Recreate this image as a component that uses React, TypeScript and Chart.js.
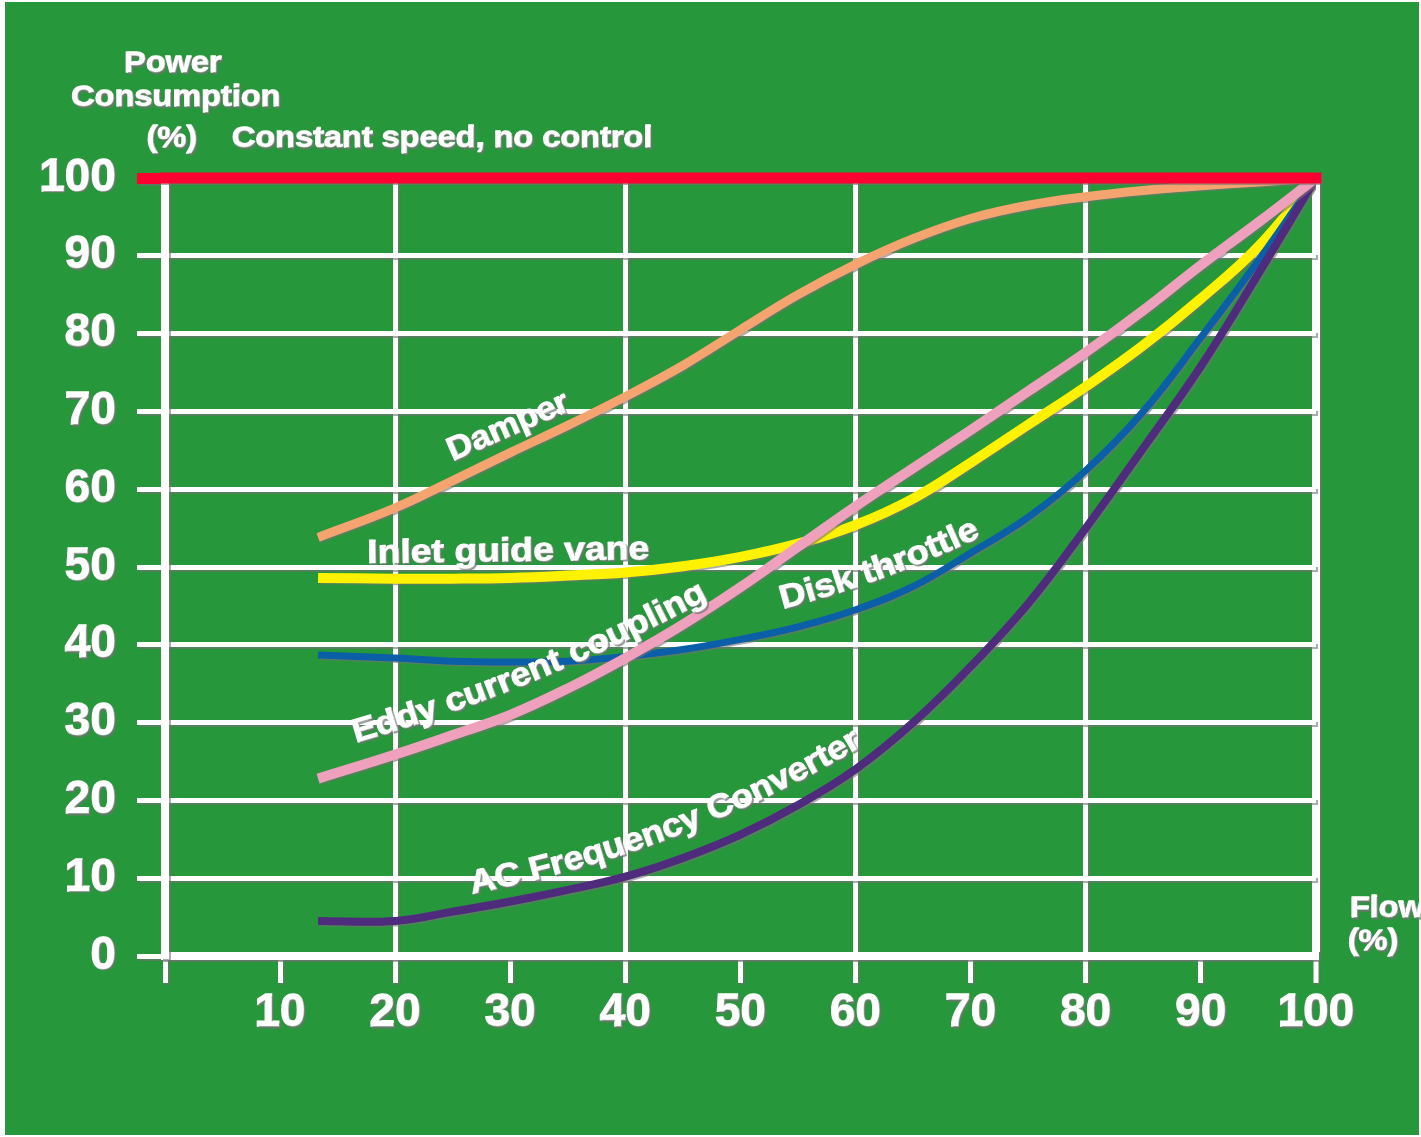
import React, { useEffect, useRef } from 'react';
import { Chart, registerables } from 'chart.js';

Chart.register(...registerables);

// ---------- data ----------
const flow = [13.3, 20, 25, 30, 35, 40, 45, 50, 55, 60, 65, 70, 75, 80, 85, 90, 95, 100];
const damper = [53.8, 57.6, 61.1, 64.7, 68.2, 71.9, 75.9, 80.5, 85.0, 88.9, 92.2, 94.8, 96.5, 97.6, 98.4, 99.0, 99.5, 100];
const inletGuideVane = [48.6, 48.5, 48.5, 48.6, 48.9, 49.3, 50.1, 51.3, 53.0, 55.4, 58.8, 63.4, 68.3, 73.2, 78.5, 84.5, 91.2, 100];
const eddyCurrentCoupling = [22.8, 25.9, 28.4, 31.0, 34.4, 38.3, 42.6, 47.4, 52.6, 57.8, 62.7, 67.6, 72.6, 77.6, 83.0, 88.8, 94.3, 100];
const diskThrottle = [38.7, 38.3, 37.9, 37.8, 37.9, 38.5, 39.4, 40.7, 42.3, 44.5, 47.5, 51.8, 56.4, 62.4, 70.0, 79.5, 89.4, 100];
const acFrequencyConverter = [4.5, 4.5, 5.7, 7.0, 8.5, 10.2, 12.6, 15.6, 19.4, 24.0, 30.0, 37.2, 45.3, 55.0, 65.3, 75.8, 87.7, 100];
const constantFlow = [0, 100];
const constantPower = [100, 100];

const xTickLabels = ['', '10', '20', '30', '40', '50', '60', '70', '80', '90', '100'];
const yTickLabels = ['0', '10', '20', '30', '40', '50', '60', '70', '80', '90', '100'];

const seriesNames = [
  'Constant speed, no control',
  'Eddy current coupling',
  'AC Frequency Converter',
  'Disk throttle',
  'Inlet guide vane',
  'Damper',
];

// ---------- styling ----------
const FONT = '"Liberation Sans", Arial, Helvetica, sans-serif';
const GREEN = '#26973a';
const WHITE = '#ffffff';
const RED = '#fb0030';
const ORANGE = '#f5a470';
const YELLOW = '#fff200';
const PINK = '#efa0bc';
const BLUE = '#0b5ea8';
const PURPLE = '#4e2b7c';

// curve labels: baseline start / end in data units, sag in px
const curveLabels = [
  { text: 'Damper', from: [25.0, 63.6], to: [35.3, 70.2], sag: 0 },
  { text: 'Inlet guide vane', from: [17.6, 50.5], to: [42.1, 51.0], sag: 0 },
  { text: 'Eddy current coupling', from: [16.6, 27.4], to: [47.2, 45.9], sag: 10 },
  { text: 'Disk throttle', from: [53.7, 44.6], to: [70.9, 53.9], sag: 5 },
  { text: 'AC Frequency Converter', from: [26.7, 8.0], to: [60.6, 27.0], sag: 18 },
];

function pts(ys: number[]) {
  return flow.map((x, i) => ({ x, y: ys[i] }));
}

function paintText(ctx: CanvasRenderingContext2D, t: string) {
  ctx.strokeText(t, 0, 0);
  ctx.fillText(t, 0, 0);
}

function drawCurvedText(ctx: CanvasRenderingContext2D, text: string, p0: { x: number; y: number }, p2: { x: number; y: number }, sag: number) {
  const dx = p2.x - p0.x;
  const dy = p2.y - p0.y;
  const len = Math.hypot(dx, dy);
  const nx = -dy / len;
  const ny = dx / len;
  const c = { x: (p0.x + p2.x) / 2 + nx * 2 * sag, y: (p0.y + p2.y) / 2 + ny * 2 * sag };
  const N = 300;
  const path: { x: number; y: number; s: number }[] = [];
  let acc = 0;
  for (let i = 0; i <= N; i++) {
    const t = i / N;
    const x = (1 - t) * (1 - t) * p0.x + 2 * (1 - t) * t * c.x + t * t * p2.x;
    const y = (1 - t) * (1 - t) * p0.y + 2 * (1 - t) * t * c.y + t * t * p2.y;
    if (i > 0) acc += Math.hypot(x - path[i - 1].x, y - path[i - 1].y);
    path.push({ x, y, s: acc });
  }
  const chars = Array.from(text);
  const widths = chars.map((ch) => ctx.measureText(ch).width);
  const W = widths.reduce((a, b) => a + b, 0);
  const k = acc / W;
  let s = 0;
  chars.forEach((ch, i) => {
    const target = (s + widths[i] / 2) * k;
    let j = 1;
    while (j < path.length - 1 && path[j].s < target) j++;
    const a = path[j - 1];
    const b = path[j];
    const f = b.s === a.s ? 0 : (target - a.s) / (b.s - a.s);
    const x = a.x + (b.x - a.x) * f;
    const y = a.y + (b.y - a.y) * f;
    const ang = Math.atan2(b.y - a.y, b.x - a.x);
    ctx.save();
    ctx.translate(x, y);
    ctx.rotate(ang);
    ctx.scale(k, 1);
    ctx.textAlign = 'center';
    paintText(ctx, ch);
    ctx.restore();
    s += widths[i];
  });
}

function drawStretched(ctx: CanvasRenderingContext2D, text: string, x: number, y: number, align: CanvasTextAlign, sx: number) {
  ctx.save();
  ctx.translate(x, y);
  ctx.scale(sx, 1);
  ctx.textAlign = align;
  paintText(ctx, text);
  ctx.restore();
}

function setShadow(ctx: CanvasRenderingContext2D) {
  ctx.shadowColor = 'rgba(115,115,115,0.6)';
  ctx.shadowOffsetX = 1.5;
  ctx.shadowOffsetY = 1.5;
  ctx.shadowBlur = 0.5;
}

const decorPlugin = {
  id: 'decor',
  beforeDraw(chart: any) {
    const ctx: CanvasRenderingContext2D = chart.ctx;
    ctx.save();
    ctx.fillStyle = WHITE;
    ctx.fillRect(0, 0, chart.width, chart.height);
    ctx.fillStyle = GREEN;
    ctx.fillRect(5, 2, chart.width - 7, chart.height - 4);
    ctx.restore();
    setShadow(ctx);
  },
  afterDatasetsDraw(chart: any) {
    const ctx: CanvasRenderingContext2D = chart.ctx;
    const xs = chart.scales.x;
    const ys = chart.scales.y;
    ctx.save();
    setShadow(ctx);
    ctx.fillStyle = WHITE;
    ctx.strokeStyle = WHITE;
    ctx.lineWidth = 1.3;
    ctx.lineJoin = 'round';
    ctx.textBaseline = 'alphabetic';
    ctx.font = `bold 33px ${FONT}`;
    curveLabels.forEach((l) => {
      const p0 = { x: xs.getPixelForValue(l.from[0]), y: ys.getPixelForValue(l.from[1]) };
      const p2 = { x: xs.getPixelForValue(l.to[0]), y: ys.getPixelForValue(l.to[1]) };
      drawCurvedText(ctx, l.text, p0, p2, l.sag);
    });
    ctx.font = `bold 29px ${FONT}`;
    const sx = 1.12;
    drawStretched(ctx, 'Power', 173, 72, 'center', sx);
    drawStretched(ctx, 'Consumption', 176, 106, 'center', sx);
    drawStretched(ctx, '(%)', 172, 147, 'center', sx);
    drawStretched(ctx, seriesNames[0], 232, 147, 'left', sx);
    drawStretched(ctx, 'Flow', 1350, 917, 'left', sx);
    drawStretched(ctx, '(%)', 1348, 950, 'left', sx);
    ctx.restore();
  },
};

export default function App() {
  const ref = useRef<HTMLCanvasElement | null>(null);
  useEffect(() => {
    if (!ref.current) return;
    const lineCommon = {
      pointRadius: 0,
      pointHoverRadius: 0,
      fill: false,
      tension: 0.4,
      borderCapStyle: 'butt' as const,
      borderJoinStyle: 'round' as const,
    };
    const chart = new Chart(ref.current, {
      type: 'line',
      data: {
        datasets: [
          {
            label: seriesNames[0],
            data: constantFlow.map((x, i) => ({ x, y: constantPower[i] })),
            borderColor: RED,
            borderWidth: 11,
            pointRadius: 0,
            borderCapStyle: 'square',
            clip: false,
          },
          { label: seriesNames[1], data: pts(eddyCurrentCoupling), borderColor: PINK, borderWidth: 10, ...lineCommon },
          { label: seriesNames[2], data: pts(acFrequencyConverter), borderColor: PURPLE, borderWidth: 8, ...lineCommon },
          { label: seriesNames[3], data: pts(diskThrottle), borderColor: BLUE, borderWidth: 7, ...lineCommon },
          { label: seriesNames[4], data: pts(inletGuideVane), borderColor: YELLOW, borderWidth: 10, ...lineCommon },
          { label: seriesNames[5], data: pts(damper), borderColor: ORANGE, borderWidth: 9, ...lineCommon },
        ] as any,
      },
      options: {
        responsive: false,
        animation: false,
        devicePixelRatio: 1,
        layout: { padding: { top: 178, right: 105, bottom: 81, left: 0 } },
        plugins: { legend: { display: false }, tooltip: { enabled: false } },
        events: [],
        scales: {
          x: {
            type: 'linear',
            min: 0,
            max: 100,
            afterFit: (s: any) => { s.height = 100; },
            ticks: {
              stepSize: 10,
              autoSkip: false,
              maxRotation: 0,
              color: WHITE,
              padding: 3,
              textStrokeColor: WHITE,
              textStrokeWidth: 1.3,
              font: { family: FONT, size: 46, weight: 'bold' },
              callback: (v: any) => xTickLabels[Math.round(Number(v) / 10)],
            },
            grid: {
              color: (c: any) => (c.tick && c.tick.value % 20 === 0 ? WHITE : 'rgba(0,0,0,0)'),
              lineWidth: (c: any) => (c.tick && c.tick.value === 100 ? 8 : 5),
              tickLength: 27,
              tickColor: WHITE,
              tickWidth: 5,
            },
            border: { display: true, color: WHITE, width: 8 },
          },
          y: {
            type: 'linear',
            min: 0,
            max: 100,
            afterFit: (s: any) => { s.width = 165; },
            ticks: {
              stepSize: 10,
              color: WHITE,
              padding: 21,
              textStrokeColor: WHITE,
              textStrokeWidth: 1.3,
              font: { family: FONT, size: 46, weight: 'bold' },
              callback: (v: any) => yTickLabels[Math.round(Number(v) / 10)],
            },
            grid: {
              color: WHITE,
              lineWidth: 5,
              tickLength: 28,
              tickColor: (c: any) => (c.tick && c.tick.value === 100 ? RED : WHITE),
              tickWidth: (c: any) => (c.tick && c.tick.value === 100 ? 11 : 5),
            },
            border: { display: true, color: WHITE, width: 8 },
          },
        },
      } as any,
      plugins: [decorPlugin],
    });
    return () => chart.destroy();
  }, []);
  return (
    <canvas
      ref={ref}
      width={1421}
      height={1137}
      style={{ position: 'absolute', left: 0, top: 0, width: 1421, height: 1137 }}
    />
  );
}
